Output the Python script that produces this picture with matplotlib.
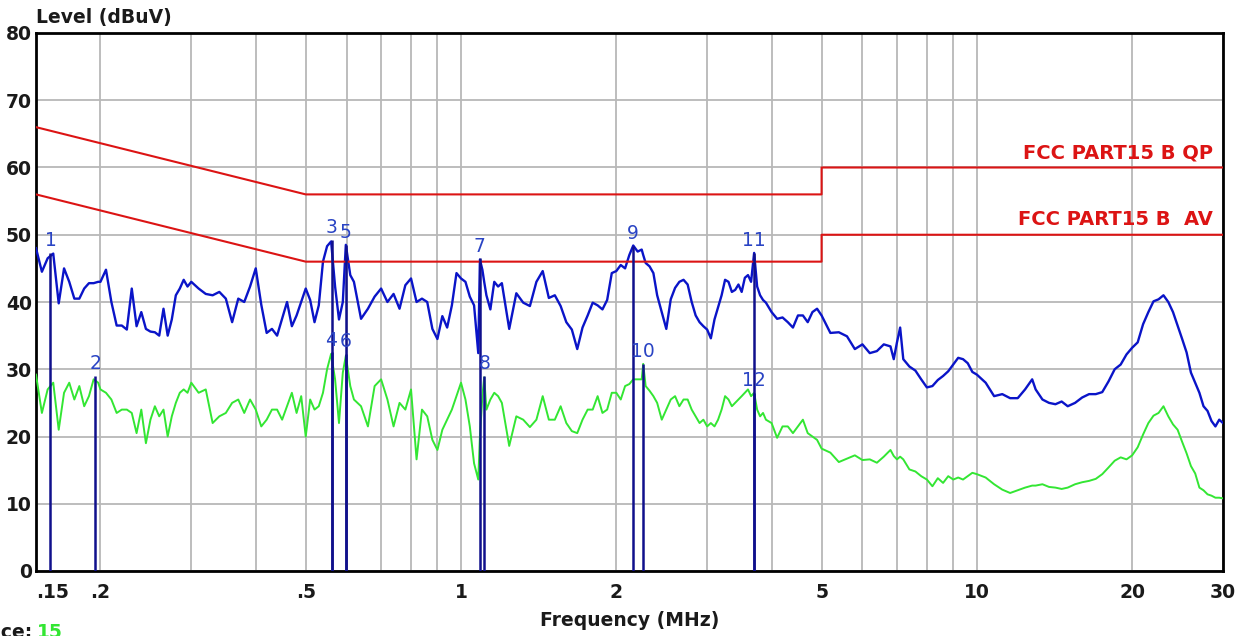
import matplotlib
matplotlib.use("Agg")
import matplotlib.pyplot as plt
from matplotlib.ticker import FixedLocator, NullFormatter

# Frequencies of the sweep points (MHz)
freq_mhz = [
    0.150, 0.154, 0.158, 0.162, 0.166, 0.170, 0.174, 0.178, 0.182, 0.186, 0.190, 0.194, 0.198,
    0.200, 0.205, 0.210, 0.215, 0.220, 0.225, 0.230, 0.235, 0.240, 0.245,
    0.250, 0.255, 0.260, 0.265, 0.270, 0.275, 0.280, 0.285, 0.290, 0.295,
    0.30, 0.31, 0.32, 0.33, 0.34, 0.35, 0.36, 0.37, 0.38, 0.39,
    0.40, 0.41, 0.42, 0.43, 0.44, 0.45, 0.46, 0.47, 0.48, 0.49,
    0.50, 0.51, 0.52, 0.53, 0.54, 0.55, 0.56, 0.57, 0.58, 0.59, 0.598, 0.61,
    0.62, 0.64, 0.66, 0.68, 0.70, 0.72, 0.74, 0.76, 0.78, 0.80, 0.82, 0.84, 0.86, 0.88,
    0.90, 0.92, 0.94, 0.96, 0.98,
    1.00, 1.02, 1.04, 1.06, 1.08, 1.088, 1.10, 1.109, 1.12, 1.14, 1.16, 1.18, 1.20,
    1.24, 1.28, 1.32, 1.36, 1.40, 1.44, 1.48, 1.52, 1.56, 1.60, 1.64, 1.68,
    1.72, 1.76, 1.80, 1.84, 1.88, 1.92, 1.96, 2.00, 2.04, 2.08, 2.12,
    2.157, 2.20, 2.24, 2.255, 2.28, 2.32, 2.36, 2.40,
    2.45, 2.50, 2.55, 2.60, 2.65, 2.70, 2.75, 2.80, 2.85, 2.90, 2.95, 3.00, 3.05,
    3.10, 3.15, 3.20, 3.25, 3.30, 3.35, 3.40, 3.45, 3.50, 3.55, 3.60, 3.65,
    3.70, 3.75, 3.80, 3.85, 3.90,
    4.0, 4.1, 4.2, 4.3, 4.4, 4.5, 4.6, 4.7, 4.8, 4.9, 5.0,
    5.2, 5.4, 5.6, 5.8, 6.0, 6.2, 6.4, 6.6, 6.8, 6.9, 7.0, 7.1, 7.2,
    7.4, 7.6, 7.8, 8.0, 8.2, 8.4, 8.6, 8.8, 9.0, 9.2, 9.4, 9.6, 9.8, 10.0,
    10.4, 10.8, 11.2, 11.6, 12.0, 12.4, 12.8,
    13.0, 13.4, 13.8, 14.2, 14.6,
    15.0, 15.5, 16.0, 16.5, 17.0, 17.5, 18.0, 18.5, 19.0, 19.5, 20.0,
    20.5, 21.0, 21.5, 22.0, 22.5, 23.0, 23.5, 24.0, 24.5, 25.0,
    25.5, 26.0, 26.5, 27.0, 27.5, 28.0, 28.5, 29.0, 29.5, 30.0,
]

# QP trace (blue), dBuV
qp_level = [
    48, 44.5, 46.5, 47.2, 39.8, 45, 43, 40.5, 40.5, 42, 42.8, 42.8, 43,
    43, 44.8, 40, 36.5, 36.5, 35.9, 42, 36.4, 38.5, 36,
    35.6, 35.5, 35, 39, 35, 37.4, 41, 42, 43.3, 42.3,
    43, 42, 41.2, 41, 41.5, 40.5, 37, 40.5, 40, 42.3,
    45, 39.6, 35.4, 36, 35, 37.5, 40, 36.4, 38, 40,
    42, 40.3, 37, 39.5, 46, 48.3, 49, 42.3, 37.4, 40, 48.5, 44,
    43, 37.5, 39, 40.8, 42, 40, 41.2, 39, 42.5, 43.5, 40, 40.5, 40, 36,
    34.5, 37.9, 36.2, 39.5, 44.3,
    43.5, 43, 40.8, 39.5, 32.4, 46.3, 44.8, 43, 41, 38.9, 43, 42.3, 42.8,
    36, 41.3, 39.9, 39.4, 43, 44.6, 40.6, 41, 39.4, 37, 35.9, 33,
    36.2, 38, 39.9, 39.5, 38.9, 40.3, 44.3, 44.6, 45.5, 45, 47,
    48.4, 47.5, 47.8, 47, 45.8, 45.3, 44.3, 41,
    38.5, 36, 40.4, 42.1, 43, 43.3, 42.6, 40, 38, 37, 36.4, 35.9, 34.6,
    37.4, 39.2, 41, 43.3, 43, 41.5, 41.8, 42.6, 41.5, 43.6, 44, 43,
    47.3, 42.3, 41, 40.3, 39.9,
    38.5, 37.5, 37.7, 37, 36.2, 38, 38, 37, 38.5, 39, 38,
    35.4, 35.5, 34.9, 33, 33.7, 32.4, 32.7, 33.7, 33.4, 31.5, 34, 36.2, 31.5,
    30.4, 29.8, 28.5, 27.3, 27.5, 28.4, 29, 29.7, 30.7, 31.7, 31.5, 30.9, 29.6, 29.2,
    28, 26, 26.3, 25.7, 25.7, 27, 28.5,
    27, 25.5, 25, 24.8, 25.2,
    24.5, 25, 25.8, 26.3, 26.3, 26.6, 28.2, 30, 30.7, 32.2, 33.2,
    34, 36.7, 38.5, 40.1, 40.4, 41, 40, 38.5, 36.5, 34.5,
    32.5, 29.5, 28, 26.5, 24.5, 23.8, 22.3, 21.5, 22.5, 22,
]

# AV trace (green), dBuV
av_level = [
    29.2, 23.5, 27, 28, 21, 26.5, 28, 25.5, 27.5, 24.5, 26, 28.5, 28,
    27, 26.5, 25.5, 23.5, 24, 24, 23.5, 20.5, 24, 19,
    22.5, 24.5, 23, 24, 20, 23, 25, 26.5, 27, 26.5,
    28, 26.5, 27, 22, 23, 23.5, 25, 25.5, 23.5, 25.5,
    24, 21.5, 22.5, 24, 24, 22.5, 24.5, 26.5, 23.5, 26,
    20, 25.5, 24, 24.5, 26.5, 30, 32.3, 28.5, 22, 29.5, 32, 27.5,
    25.5, 24.5, 21.5, 27.5, 28.5, 25.5, 21.5, 25, 24, 27, 16.6, 24, 23, 19.5,
    18, 21, 22.5, 24, 26,
    28, 25.5, 21.5, 16, 13.6, 20, 26, 28.8, 24, 25.5, 26.5, 26, 25,
    18.6, 23, 22.5, 21.4, 22.5, 26, 22.5, 22.5, 24.5, 22, 20.8, 20.5,
    22.5, 24, 24, 26, 23.5, 24, 26.5, 26.5, 25.5, 27.5, 27.8,
    28.5, 28.5, 28.5, 30.8, 27.5, 26.8, 26, 25,
    22.5, 24, 25.5, 26, 24.5, 25.5, 25.5, 24, 23, 22, 22.5, 21.5, 22,
    21.5, 22.5, 24, 26, 25.5, 24.5, 25, 25.5, 26, 26.5, 27, 26,
    26.5, 24, 23, 23.5, 22.5,
    22, 19.8, 21.5, 21.5, 20.5, 21.5, 22.5, 20.5, 20, 19.5, 18.2,
    17.6, 16.2, 16.7, 17.2, 16.5, 16.6, 16.1, 17, 18, 17.1, 16.6, 17, 16.6,
    15.1, 14.8, 14.1, 13.6, 12.6, 13.8, 13.1, 14.1, 13.6, 13.9, 13.6, 14.1, 14.6, 14.4,
    13.9, 12.9, 12.1, 11.6, 12.0, 12.4, 12.7,
    12.7, 12.9, 12.5, 12.4, 12.2,
    12.4, 12.9, 13.2, 13.4, 13.7, 14.4, 15.4, 16.4, 16.9, 16.6, 17.2,
    18.4, 20.3, 22, 23.1, 23.5, 24.5, 23, 21.8, 21, 19.2,
    17.5, 15.6, 14.5, 12.4, 12, 11.4, 11.2, 10.9, 10.9, 10.8,
]

# FCC Part 15 B limits
limit_freq = [0.15, 0.5, 5.0, 5.0, 30.0]
qp_limit = [66, 56, 56, 60, 60]
av_limit = [56, 46, 46, 50, 50]

# marker table: number, frequency (MHz), level (dBuV)
marker_no = ["1", "2", "3", "4", "5", "6", "7", "8", "9", "10", "11", "12"]
marker_freq = [0.160, 0.1956, 0.561, 0.561, 0.598, 0.598, 1.088, 1.109, 2.157, 2.255, 3.70, 3.70]
marker_level = [47.3, 29.0, 49.2, 32.5, 48.5, 32.3, 46.5, 29.0, 48.4, 30.8, 47.3, 26.5]

major_ticks = [0.15, 0.2, 0.5, 1, 2, 5, 10, 20, 30]
major_labels = [".15", ".2", ".5", "1", "2", "5", "10", "20", "30"]
minor_grid = [0.3, 0.4, 0.6, 0.7, 0.8, 0.9, 3, 4, 6, 7, 8, 9]

W, H = 1253, 636
fig = plt.figure(figsize=(W / 100, H / 100), dpi=100)
ax = fig.add_axes([36 / W, 1 - 571 / H, (1223 - 36) / W, (571 - 33) / H])

ax.plot(freq_mhz, qp_level, color="#0a14c8", lw=1.7, zorder=3)
ax.plot(freq_mhz, av_level, color="#33e633", lw=1.4, zorder=3)

ax.plot(limit_freq, qp_limit, color="#dc1414", lw=1.5, zorder=4)
ax.plot(limit_freq, av_limit, color="#dc1414", lw=1.5, zorder=4)

ax.vlines(marker_freq, 0, marker_level, color="#10108c", lw=1.8, zorder=5)
for no, f, lv in zip(marker_no, marker_freq, marker_level):
    ax.annotate(no, (f, lv), xytext=(0, 2), textcoords="offset points",
                ha="center", va="bottom", color="#2a44c4", fontsize=13.5, zorder=6)

ax.set_xscale("log")
ax.set_xlim(0.15, 30)
ax.set_ylim(0, 80)
ax.set_xticks(major_ticks)
ax.set_xticklabels(major_labels)
ax.xaxis.set_minor_locator(FixedLocator(minor_grid))
ax.xaxis.set_minor_formatter(NullFormatter())
ax.set_yticks(range(0, 81, 10))
ax.tick_params(which="both", length=0)
ax.tick_params(axis="x", pad=9)
ax.tick_params(axis="y", pad=3)
for lab in ax.get_xticklabels() + ax.get_yticklabels():
    lab.set_fontsize(13.5)
    lab.set_fontweight("bold")
    lab.set_color("#1a1a1a")
ax.get_xticklabels()[0].set_horizontalalignment("left")

ax.grid(True, which="both", color="#b8b8b8", lw=1.3)
ax.set_axisbelow(True)
for sp in ax.spines.values():
    sp.set_linewidth(2)
    sp.set_color("black")

# limit names, right aligned above the lines
tr = ax.get_yaxis_transform()
ax.text(0.9916, qp_limit[-1] + 2.2, "FCC PART15 B QP", transform=tr, ha="right",
        va="center", color="#dc1414", fontsize=14, fontweight="bold")
ax.text(0.9916, av_limit[-1] + 2.2, "FCC PART15 B  AV", transform=tr, ha="right",
        va="center", color="#dc1414", fontsize=14, fontweight="bold")

fig.text(36 / W, 1 - 17 / H, "Level (dBuV)", ha="left", va="center",
         fontsize=13.5, fontweight="bold", color="#1a1a1a")
fig.text(630 / W, 1 - 620 / H, "Frequency (MHz)", ha="center", va="center",
         fontsize=13.5, fontweight="bold", color="#1a1a1a")
fig.text(33 / W, 1 - 632 / H, "Trace:", ha="right", va="center",
         fontsize=13.5, fontweight="bold", color="#1a1a1a")
fig.text(37 / W, 1 - 632 / H, "15", ha="left", va="center",
         fontsize=13.5, fontweight="bold", color="#33e633")

fig.savefig("out.png", dpi=100)
